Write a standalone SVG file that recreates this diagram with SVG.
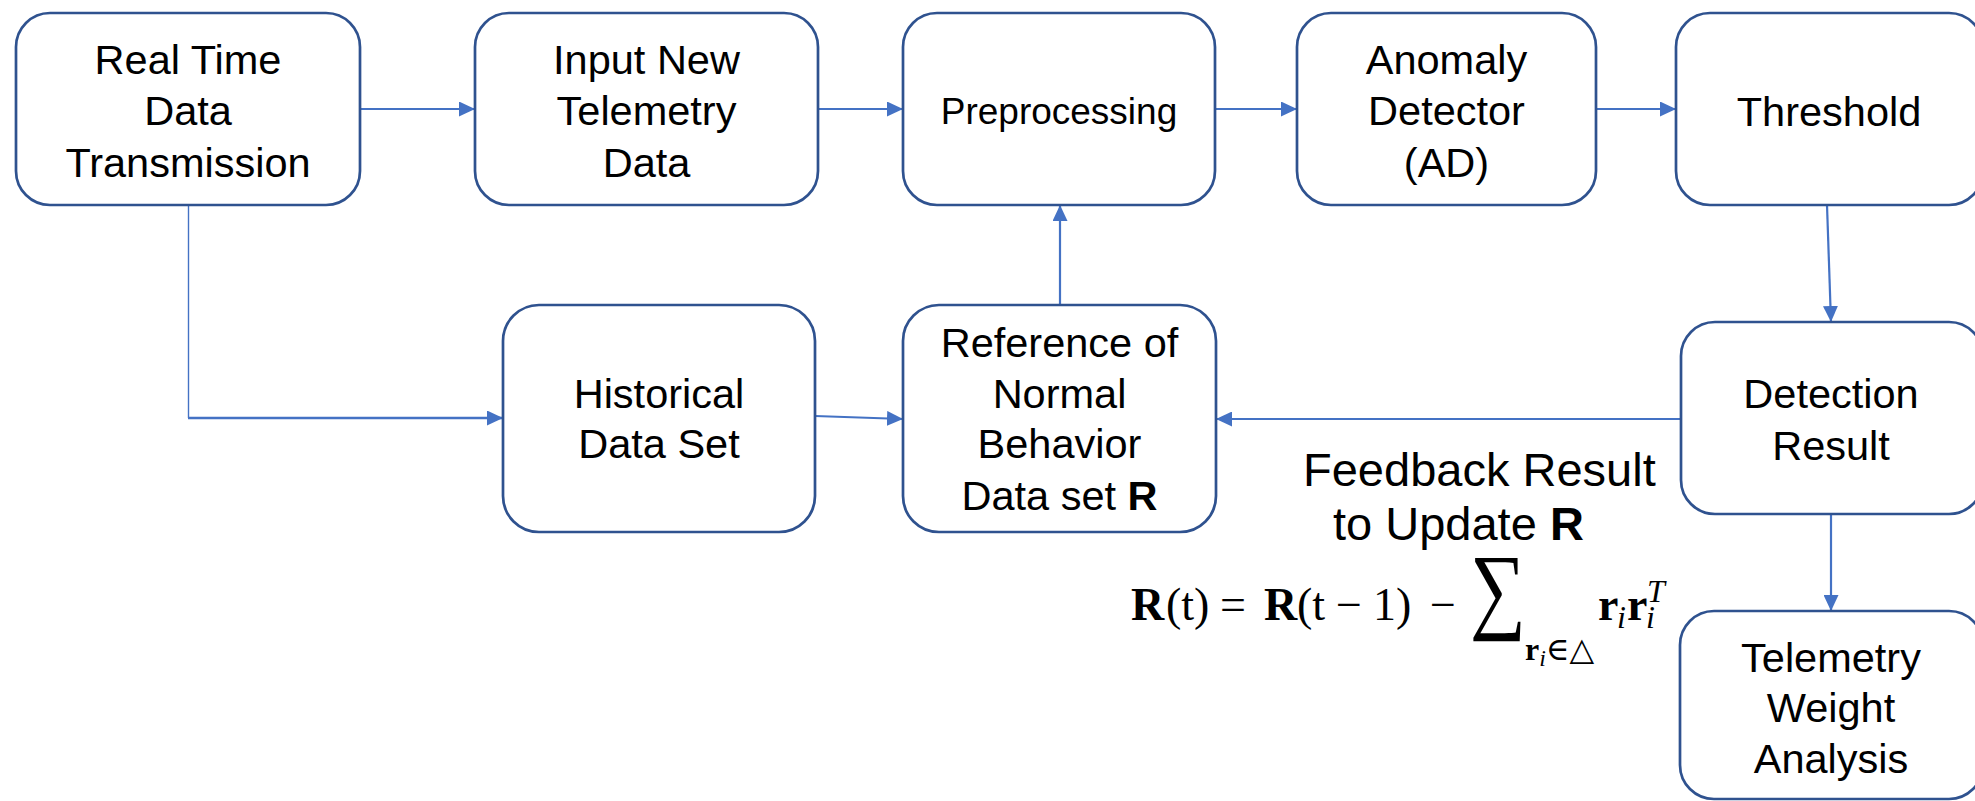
<svg xmlns="http://www.w3.org/2000/svg" width="1975" height="801" viewBox="0 0 1975 801">
<style>
.box{fill:#ffffff;stroke:#2F528F;stroke-width:2.7}
.lbl{font-family:"Liberation Sans",Arial,sans-serif;font-size:41.5px;fill:#000;text-anchor:middle}
.con{stroke:#4472C4;stroke-width:2.2;fill:none}
.math{font-family:"Liberation Serif","DejaVu Serif",serif;font-size:46px;fill:#000}
.sm{font-size:32px}
.it{font-style:italic}
.bd{font-weight:bold}
</style>
<defs>
<marker id="ah" markerUnits="userSpaceOnUse" markerWidth="16" markerHeight="15" refX="16" refY="7.5" orient="auto">
<path d="M0,0 L16,7.5 L0,15 z" fill="#4472C4"/>
</marker>
</defs>
<rect width="1975" height="801" fill="#ffffff"/>
<g id="connectors">
<line class="con" x1="360" y1="109" x2="475" y2="109" marker-end="url(#ah)"/>
<line class="con" x1="818" y1="109" x2="903" y2="109" marker-end="url(#ah)"/>
<line class="con" x1="1215" y1="109" x2="1297" y2="109" marker-end="url(#ah)"/>
<line class="con" x1="1596" y1="109" x2="1676" y2="109" marker-end="url(#ah)"/>
<line class="con" x1="1827" y1="205" x2="1831" y2="322" marker-end="url(#ah)"/>
<line class="con" x1="1831" y1="514" x2="1831" y2="611" marker-end="url(#ah)"/>
<line class="con" x1="1681" y1="419" x2="1216" y2="419" marker-end="url(#ah)"/>
<line class="con" x1="1060" y1="305" x2="1060" y2="205" marker-end="url(#ah)"/>
<line class="con" x1="815" y1="416" x2="903" y2="419" marker-end="url(#ah)"/>
<line class="con" x1="188.5" y1="205" x2="188.5" y2="418" style="stroke-width:1.4"/>
<line class="con" x1="188" y1="418" x2="503" y2="418" marker-end="url(#ah)" style="stroke-width:2.6"/>
</g>
<g id="n-realtime"><rect class="box" x="16" y="13" width="344" height="192" rx="34"/>
<text class="lbl" x="188" y="74">Real Time</text><text class="lbl" x="188" y="125">Data</text><text class="lbl" x="188" y="177">Transmission</text></g>
<g id="n-input"><rect class="box" x="475" y="13" width="343" height="192" rx="34"/>
<text class="lbl" x="646.5" y="74">Input New</text><text class="lbl" x="646.5" y="125">Telemetry</text><text class="lbl" x="646.5" y="177">Data</text></g>
<g id="n-preprocessing"><rect class="box" x="903" y="13" width="312" height="192" rx="34"/>
<text class="lbl" x="1059" y="124" style="font-size:37px">Preprocessing</text></g>
<g id="n-anomaly"><rect class="box" x="1297" y="13" width="299" height="192" rx="34"/>
<text class="lbl" x="1446.5" y="74">Anomaly</text><text class="lbl" x="1446.5" y="125">Detector</text><text class="lbl" x="1446.5" y="177">(AD)</text></g>
<g id="n-threshold"><rect class="box" x="1676" y="13" width="307" height="192" rx="34"/>
<text class="lbl" x="1829" y="126">Threshold</text></g>
<g id="n-historical"><rect class="box" x="503" y="305" width="312" height="227" rx="36"/>
<text class="lbl" x="659" y="408">Historical</text><text class="lbl" x="659" y="458">Data Set</text></g>
<g id="n-reference"><rect class="box" x="903" y="305" width="313" height="227" rx="36"/>
<text class="lbl" x="1059.5" y="357">Reference of</text><text class="lbl" x="1059.5" y="408">Normal</text><text class="lbl" x="1059.5" y="458">Behavior</text><text class="lbl" x="1059.5" y="510">Data set <tspan font-weight="bold">R</tspan></text></g>
<g id="n-detection"><rect class="box" x="1681" y="322" width="302" height="192" rx="34"/>
<text class="lbl" x="1831" y="408">Detection</text><text class="lbl" x="1831" y="460">Result</text></g>
<g id="n-telemetry"><rect class="box" x="1680" y="611" width="303" height="188" rx="34"/>
<text class="lbl" x="1831" y="672">Telemetry</text><text class="lbl" x="1831" y="722">Weight</text><text class="lbl" x="1831" y="773">Analysis</text></g>
<g id="feedback-label">
<text x="1303" y="486" style="font-family:'Liberation Sans',Arial,sans-serif;font-size:47px;fill:#000">Feedback Result</text>
<text x="1333" y="540" style="font-family:'Liberation Sans',Arial,sans-serif;font-size:47px;fill:#000">to Update <tspan font-weight="bold">R</tspan></text>
</g>
<g id="formula">
<text class="math" x="1131" y="620"><tspan class="bd">R</tspan><tspan x="1166">(t)</tspan><tspan x="1220">=</tspan><tspan class="bd" x="1264">R</tspan><tspan x="1297">(t</tspan><tspan x="1336">−</tspan><tspan x="1373">1)</tspan><tspan x="1430">−</tspan></text>
<text class="math" transform="translate(1470,621) scale(0.82,1)" style="font-size:96px">∑</text>
<text class="math sm" x="1525" y="660"><tspan class="bd">r</tspan><tspan class="it" font-size="24px" dy="6">i</tspan><tspan dy="-6">∈△</tspan></text>
<text class="math" x="1598" y="620"><tspan class="bd">r</tspan><tspan class="sm it" x="1617" dy="8">i</tspan><tspan class="bd" x="1627" dy="-8">r</tspan><tspan class="sm it" x="1646" dy="8">i</tspan><tspan class="sm it" x="1647" dy="-26">T</tspan></text>
</g>
</svg>
